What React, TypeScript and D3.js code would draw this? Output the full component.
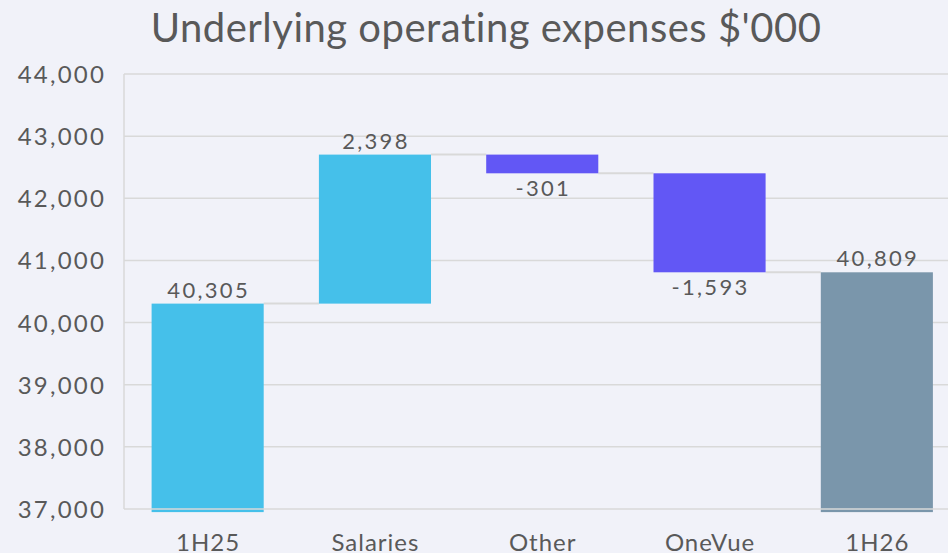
import * as d3 from 'd3';
import { useEffect, useRef } from 'react';

const categories = ['1H25', 'Salaries', 'Other', 'OneVue', '1H26'];
const values = [40305, 2398, -301, -1593, 40809];
const kinds = ['total', 'delta', 'delta', 'delta', 'total'];
const yTicks = [37000, 38000, 39000, 40000, 41000, 42000, 43000, 44000];

const W = 948;
const H = 553;
const FONT = 'Lato, "Open Sans", sans-serif';

const App = () => {
  const svgRef = useRef<SVGSVGElement>(null);

  useEffect(() => {
    const svg = d3.select(svgRef.current);
    svg.selectAll('*').remove();

    const margin = { top: 74, left: 124, bottom: 44 };
    const plotBottom = H - margin.bottom;

    const x = d3.scaleBand()
      .domain(categories)
      .range([margin.left, margin.left + 836.5])
      .paddingInner(0.33)
      .paddingOuter(0.165);

    const y = d3.scaleLinear()
      .domain([37000, 44000])
      .range([plotBottom, margin.top]);

    // waterfall steps (totals hang a little below the axis like the original)
    let running = 0;
    const steps = categories.map((c, i) => {
      let start, end;
      if (kinds[i] === 'total') {
        start = 36950;
        end = values[i];
        running = values[i];
      } else {
        start = running;
        end = running + values[i];
        running = end;
      }
      return { c, v: values[i], kind: kinds[i], start, end };
    });

    svg.append('rect').attr('width', W).attr('height', H).attr('fill', '#f1f2f9');

    // title
    svg.append('text')
      .attr('x', 486)
      .attr('y', 42)
      .attr('text-anchor', 'middle')
      .style('font-family', FONT)
      .style('font-size', '40px')
      .style('letter-spacing', '0.5px')
      .style('fill', '#595959')
      .text("Underlying operating expenses $'000");

    // gridlines
    svg.append('g')
      .selectAll('line')
      .data(yTicks.filter(t => t !== 37000))
      .enter()
      .append('line')
      .attr('x1', margin.left)
      .attr('x2', W)
      .attr('y1', d => y(d))
      .attr('y2', d => y(d))
      .style('stroke', '#d9d9d9')
      .style('stroke-width', 1.5);

    // y labels
    svg.append('g')
      .selectAll('text')
      .data(yTicks)
      .enter()
      .append('text')
      .attr('x', 106)
      .attr('y', d => y(d) + 9)
      .attr('text-anchor', 'end')
      .style('font-family', FONT)
      .style('font-size', '24px')
      .style('letter-spacing', '2.2px')
      .style('fill', '#595959')
      .text(d => d3.format(',')(d));

    // connectors
    svg.append('g')
      .selectAll('line')
      .data(steps.slice(0, -1))
      .enter()
      .append('line')
      .attr('x1', d => x(d.c) + x.bandwidth())
      .attr('x2', (d, i) => x(categories[i + 1]))
      .attr('y1', d => y(d.end))
      .attr('y2', d => y(d.end))
      .style('stroke', '#d9d9d9')
      .style('stroke-width', 2);

    const color = d => d.kind === 'total'
      ? (d.c === '1H25' ? '#45c0ea' : '#7a96ab')
      : (d.v >= 0 ? '#45c0ea' : '#6257f5');

    svg.append('g')
      .selectAll('rect')
      .data(steps)
      .enter()
      .append('rect')
      .attr('x', d => x(d.c))
      .attr('width', x.bandwidth())
      .attr('y', d => y(Math.max(d.start, d.end)))
      .attr('height', d => Math.abs(y(d.start) - y(d.end)))
      .style('fill', color);

    // axis lines on top of bars
    svg.append('line')
      .attr('x1', margin.left).attr('x2', W)
      .attr('y1', y(37000)).attr('y2', y(37000))
      .style('stroke', '#d9d9d9').style('stroke-width', 1.5);
    svg.append('line')
      .attr('x1', margin.left).attr('x2', margin.left)
      .attr('y1', y(44000)).attr('y2', y(37000))
      .style('stroke', '#d9d9d9').style('stroke-width', 1.5);

    // value labels
    svg.append('g')
      .selectAll('text')
      .data(steps)
      .enter()
      .append('text')
      .attr('x', d => x(d.c) + x.bandwidth() / 2 + 1)
      .attr('y', d => d.v >= 0 ? y(d.end) - 6 : y(d.end) + 23)
      .attr('text-anchor', 'middle')
      .style('font-family', FONT)
      .style('font-size', '22px')
      .style('letter-spacing', '2.3px')
      .style('fill', '#595959')
      .text(d => d3.format(',')(d.v).replace('−', '-'));

    // x labels
    svg.append('g')
      .selectAll('text')
      .data(categories)
      .enter()
      .append('text')
      .attr('x', d => x(d) + x.bandwidth() / 2 + 0.5)
      .attr('y', 551)
      .attr('text-anchor', 'middle')
      .style('font-family', FONT)
      .style('font-size', '24px')
      .style('letter-spacing', '1px')
      .style('fill', '#595959')
      .text(d => d);
  }, []);

  return (
    <svg ref={svgRef} width={W} height={H} style={{ position: 'absolute', left: 0, top: 0 }}></svg>
  );
};

export default App;
